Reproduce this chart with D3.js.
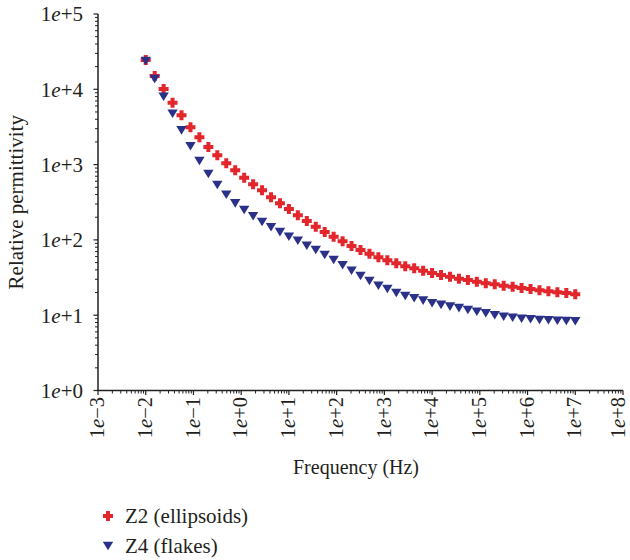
<!DOCTYPE html>
<html><head><meta charset="utf-8">
<script src="https://cdn.jsdelivr.net/npm/d3@7"></script>
<style>body{margin:0;background:#fff}svg{display:block}text{font-family:"Liberation Serif","DejaVu Serif","Noto Serif",serif;fill:#231f20}</style>
</head><body>
<svg id="c" width="630" height="560"></svg>
<script>
const frequency = [0.01,0.0154,0.0237,0.0365,0.0562,0.0866,0.1334,0.2054,0.3162,0.4870,0.7499,
 1.155,1.778,2.738,4.217,6.494,10,15.40,23.71,36.52,56.23,86.60,133.4,205.4,316.2,487.0,749.9,
 1155,1778,2738,4217,6494,1e4,15399,23714,36517,56234,86596,133352,205353,316228,486968,749894,
 1154782,1778279,2738420,4216965,6493816,1e7];
const z2Ellipsoids = [24500,15000,10090,6640,4520,3130,2300,1710,1330,1040,840,670,547,456,369,307,257,212,178,150,
 127,110,95.8,83,73.4,65.6,58.7,53.6,48.9,44.6,42.0,39.0,36.3,34.2,32.5,30.5,29.3,27.9,26.5,25.7,
 24.6,23.9,23.0,22.3,21.4,20.8,20.1,19.7,19.0];
const z4Flakes = [23800,13700,7980,4740,2850,1750,1117,750,536,398,306,250,206,173,147,127,110,97.5,83.8,73.4,
 63.0,54.1,46.0,39.0,33.2,28.5,24.6,22.3,19.7,18.0,16.8,15.6,14.4,13.7,13.0,12.4,11.7,11.1,10.6,9.97,
 9.55,9.26,8.99,8.83,8.63,8.55,8.45,8.38,8.30];
const xTickExps = [-3,-2,-1,0,1,2,3,4,5,6,7,8];
const yTickExps = [0,1,2,3,4,5];
const seriesNames = ["Z2 (ellipsoids)","Z4 (flakes)"];

const svg = d3.select("#c");
const x = d3.scaleLog().domain([1e-3,1e8]).range([98,623]);
const y = d3.scaleLog().domain([1,1e5]).range([390.5,14]);
const ink = "#231f20", red = "#e3262c", blue = "#2b3189";
const FONT = "'Liberation Serif','DejaVu Serif','Noto Serif',serif";

function expLabel(sel, e){
  sel.append("tspan").text("1");
  sel.append("tspan").attr("font-style","italic").text("e");
  sel.append("tspan").text((e<0?"\u2212":"+")+Math.abs(e));
}

const minorX = [], minorY = [];
for (let e=-3;e<8;e++) for (let m=2;m<=9;m++) minorX.push(m*Math.pow(10,e));
for (let e=0;e<5;e++) for (let m=2;m<=9;m++) minorY.push(m*Math.pow(10,e));

const ax = svg.append("g");
ax.selectAll("line.mx").data(minorX).join("line")
  .attr("x1",d=>x(d)).attr("x2",d=>x(d)).attr("y1",y(1)).attr("y2",y(1)+3)
  .attr("stroke",ink).attr("stroke-width",1);
ax.selectAll("line.Mx").data(xTickExps).join("line")
  .attr("x1",d=>x(Math.pow(10,d))).attr("x2",d=>x(Math.pow(10,d))).attr("y1",y(1)).attr("y2",y(1)+4.5)
  .attr("stroke",ink).attr("stroke-width",1.2);
ax.selectAll("line.my").data(minorY).join("line")
  .attr("y1",d=>y(d)).attr("y2",d=>y(d)).attr("x1",x(1e-3)).attr("x2",x(1e-3)-3)
  .attr("stroke",ink).attr("stroke-width",1);
ax.selectAll("line.My").data(yTickExps).join("line")
  .attr("y1",d=>y(Math.pow(10,d))).attr("y2",d=>y(Math.pow(10,d))).attr("x1",x(1e-3)).attr("x2",x(1e-3)-4.5)
  .attr("stroke",ink).attr("stroke-width",1.2);
ax.append("line").attr("x1",x(1e-3)).attr("x2",x(1e8)).attr("y1",y(1)).attr("y2",y(1)).attr("stroke",ink).attr("stroke-width",1.5);
ax.append("line").attr("x1",x(1e-3)).attr("x2",x(1e-3)).attr("y1",y(1)).attr("y2",y(1e5)).attr("stroke",ink).attr("stroke-width",1.5);

svg.selectAll("text.yl").data(yTickExps).join("text")
  .attr("font-family",FONT)
  .attr("x",83).attr("y",d=>y(Math.pow(10,d))).attr("dy","0.35em")
  .attr("text-anchor","end").attr("font-size",21)
  .each(function(d){expLabel(d3.select(this),d);});
svg.selectAll("text.xl").data(xTickExps).join("text")
  .attr("font-family",FONT)
  .attr("transform",d=>`translate(${Math.min(x(Math.pow(10,d)),619)},397) rotate(-90)`)
  .attr("dy","0.3em").attr("text-anchor","end").attr("font-size",20.5)
  .each(function(d){expLabel(d3.select(this),d);});

svg.append("text").attr("font-family",FONT).attr("transform",`translate(23,${(y(1)+y(1e5))/2}) rotate(-90)`)
  .attr("text-anchor","middle").attr("font-size",21).text("Relative permittivity");
svg.append("text").attr("font-family",FONT).attr("x",356).attr("y",474).attr("text-anchor","middle").attr("font-size",20).text("Frequency (Hz)");

const plusShape = {draw(ctx){const a=5,b=2;ctx.moveTo(-b,-a);ctx.lineTo(b,-a);ctx.lineTo(b,-b);ctx.lineTo(a,-b);ctx.lineTo(a,b);ctx.lineTo(b,b);ctx.lineTo(b,a);ctx.lineTo(-b,a);ctx.lineTo(-b,b);ctx.lineTo(-a,b);ctx.lineTo(-a,-b);ctx.lineTo(-b,-b);ctx.closePath();}};
const triDown = {draw(ctx){const h=8.6,w=5.2;ctx.moveTo(-w,-h/2);ctx.lineTo(w,-h/2);ctx.lineTo(0,h/2);ctx.closePath();}};
const cross = d3.symbol().type(plusShape).size(1);
const tri = d3.symbol().type(triDown).size(1);

svg.append("g").selectAll("path").data(frequency).join("path")
  .attr("d",cross).attr("fill",red)
  .attr("transform",(d,i)=>`translate(${x(d)},${y(z2Ellipsoids[i])})`);
svg.append("g").selectAll("path").data(frequency).join("path")
  .attr("d",tri).attr("fill",blue)
  .attr("transform",(d,i)=>`translate(${x(d)},${y(z4Flakes[i])})`);

const lg = svg.append("g");
lg.append("path").attr("d",cross).attr("fill",red).attr("transform","translate(108,516)");
lg.append("path").attr("d",tri).attr("fill",blue).attr("transform","translate(108,546)");
lg.append("text").attr("font-family",FONT).attr("x",125).attr("y",516).attr("dy","0.35em").attr("font-size",21).text(seriesNames[0]);
lg.append("text").attr("font-family",FONT).attr("x",125).attr("y",546).attr("dy","0.35em").attr("font-size",21).text(seriesNames[1]);
</script>
</body></html>
